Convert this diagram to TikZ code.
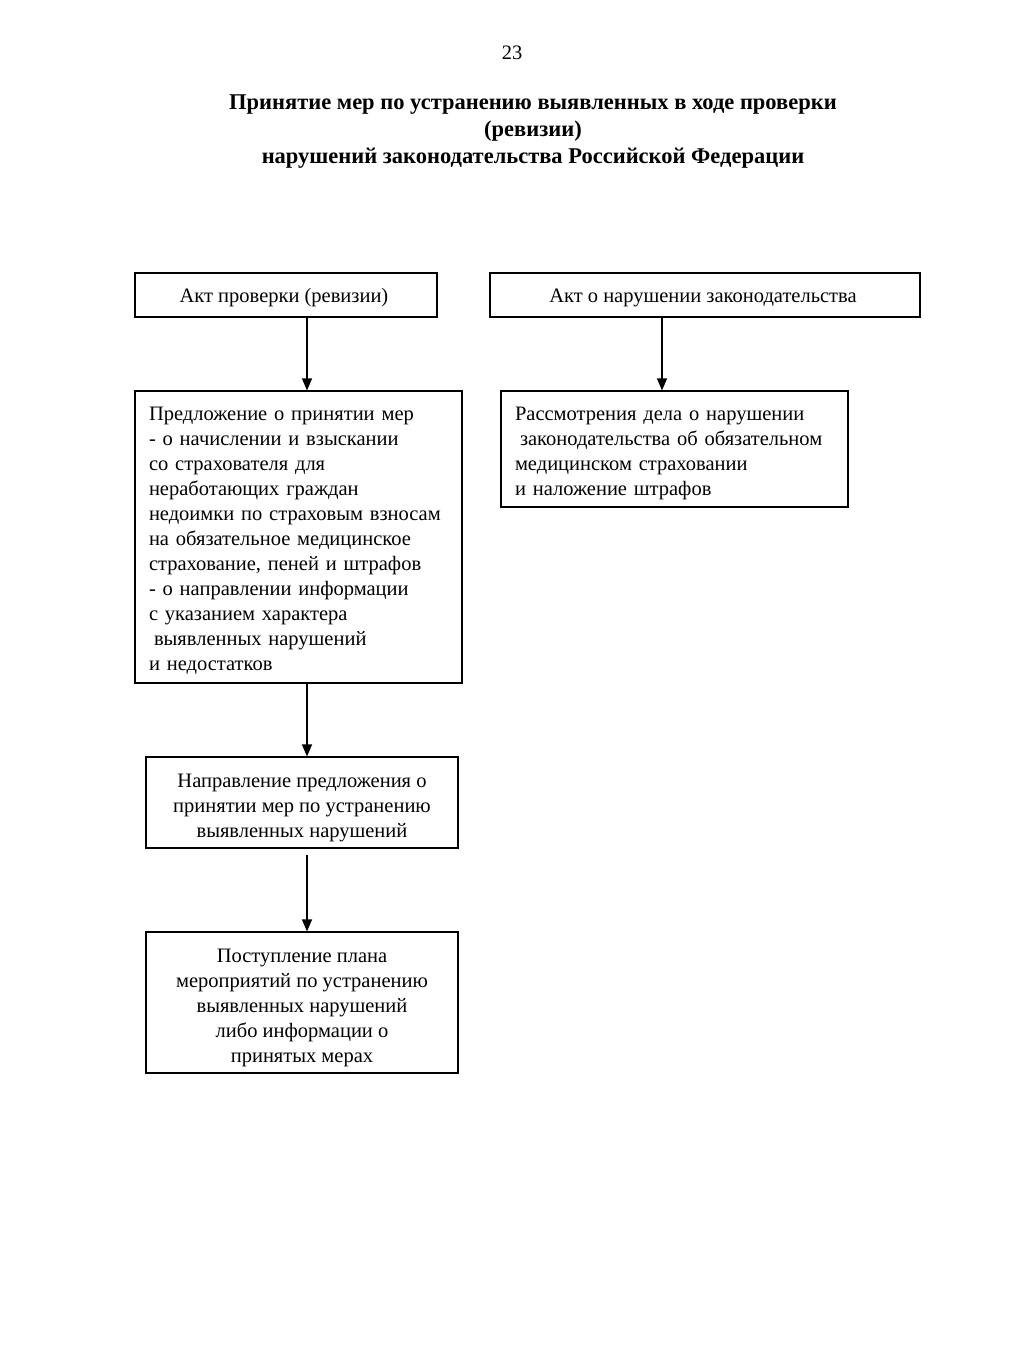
\documentclass[tikz,border=0pt]{standalone}
\usepackage{fontspec}
\setmainfont{Liberation Serif}
\usetikzlibrary{arrows.meta}
\begin{document}
\begin{tikzpicture}[x=1pt,y=-1pt,
  every node/.style={font=\fontsize{20.5}{25}\selectfont},
  box/.style={draw, line width=1.2pt, inner sep=0pt},
  ctext/.style={align=center, inner sep=0pt},
  ltext/.style={align=left, inner sep=0pt},
  arr/.style={line width=1.3pt, -{Triangle[length=12pt,width=10pt]}}]
\fill[white] (0,0) rectangle (1024,1365);
\useasboundingbox (0,0) rectangle (1024,1365);

\node (page) at (512,53) {23};
\node[font=\fontsize{22.5}{27}\selectfont\bfseries, align=center] (title) at (533,132)
  {Принятие мер по устранению выявленных в ходе проверки\\(ревизии)\\нарушений законодательства Российской Федерации};

\node[box, minimum width=302pt, minimum height=44pt] (a1) at (286,295) {};
\node[ctext] (a1t) at (284,298) {Акт проверки (ревизии)};
\node[box, minimum width=430pt, minimum height=44pt] (a2) at (705,295) {};
\node[ctext] (a2t) at (703,298) {Акт о нарушении законодательства};

\node[box, minimum width=327pt, minimum height=292pt] (b1) at (298.5,537) {};
\node[ltext, text width=299pt] (b1t) at (298.5,541)
  {Предложение о принятии мер\\
   - о начислении и взыскании\\
   со страхователя для\\
   неработающих граждан\\
   недоимки по страховым взносам\\
   на обязательное медицинское\\
   страхование, пеней и штрафов\\
   - о направлении информации\\
   с указанием характера\\
   \hspace*{5pt}выявленных нарушений\\
   и недостатков};

\node[box, minimum width=347pt, minimum height=116pt] (b2) at (674.5,449) {};
\node[ltext, text width=319pt] (b2t) at (674.5,453)
  {Рассмотрения дела о нарушении\\
   \hspace*{5pt}законодательства об обязательном\\
   медицинском страховании\\
   и наложение штрафов};

\node[box, minimum width=312pt, minimum height=91pt] (c) at (302,802.5) {};
\node[ctext] (ct) at (302,807.5)
  {Направление предложения о\\принятии мер по устранению\\выявленных нарушений};

\node[box, minimum width=312pt, minimum height=141pt] (d) at (302,1002.5) {};
\node[ctext] (dt) at (302,1008)
  {Поступление плана\\мероприятий по устранению\\выявленных нарушений\\либо информации о\\принятых мерах};

\coordinate (cout) at (307,855);
\draw[arr] (a1.south -| 307,0) -- (b1.north -| 307,0);
\draw[arr] (a2.south -| 662,0) -- (b2.north -| 662,0);
\draw[arr] (b1.south -| 307,0) -- (c.north -| 307,0);
\draw[arr] (cout) -- (d.north -| 307,0);
\end{tikzpicture}
\end{document}
